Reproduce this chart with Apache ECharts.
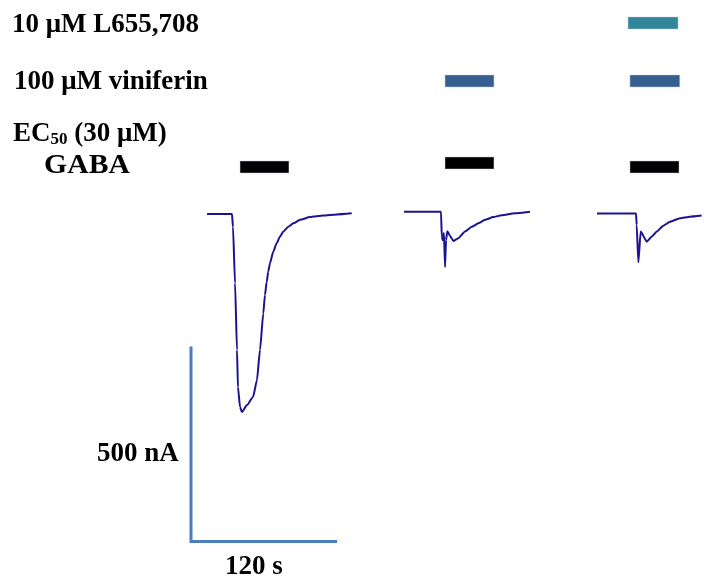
<!DOCTYPE html>
<html>
<head>
<meta charset="utf-8">
<script src="https://cdn.jsdelivr.net/npm/echarts@6/dist/echarts.min.js"></script>
<style>
html,body{margin:0;padding:0;background:#fff;}
#chart{width:704px;height:577px;}
</style>
</head>
<body>
<div id="chart"></div>
<script>
// ---- Data (time in s, current in nA) ----
const trace1Time = [13.2, 33.7, 34.5, 36.2, 37.8, 38.6, 40.3, 41.9, 46.0, 51.0, 54.2, 56.7, 59.4, 60.8, 62.2, 63.5, 64.9, 67.6, 70.4, 73.2, 75.9, 80.0, 84.1, 89.6, 97.8, 108.7, 119.8, 132.1];
const trace1Curr = [0, 0, -33, -177, -349, -444, -495, -508, -490, -469, -426, -349, -255, -208, -174, -148, -126, -97, -75, -58, -45, -33, -24, -15, -8, -4, -1, 2];

const trace2Time = [175.1, 205.5, 206.1, 206.9, 207.9, 208.8, 209.6, 210.7, 212.9, 215.6, 219.7, 225.2, 230.7, 236.1, 241.6, 248.5, 255.4, 266.3, 278.6];
const trace2Curr = [6, 6, -58, -67, -49, -136, -67, -44, -56, -69, -62, -45, -33, -24, -15, -8, -3, 2, 6];

const trace3Time = [333.7, 365.8, 366.3, 367.7, 369.6, 374.6, 378.7, 382.8, 388.2, 393.7, 401.9, 410.1, 419.7];
const trace3Curr = [1, 1, -28, -124, -45, -71, -58, -45, -30, -20, -11, -7, -4];

// drug application periods [start, end] in s
const gabaApps = [[40.3, 80.5], [208.8, 249.0], [360.8, 401.1]];
const viniferinApps = [[208.8, 249.0], [360.8, 401.7]];
const l655Apps = [[359.2, 400.3]];

// scale bar: 500 nA, 120 s
const scaleCurrent = 500;
const scaleTime = 120;

const labels = ['10 μM L655,708', '100 μM viniferin', 'GABA', '500 nA', '120 s'];

// ---- layout / style ----
const TRACE_COLOR = '#1a1490';
const FONT = 'bold 27px "Liberation Serif", "Times New Roman", serif';
const BAR_H = 12;
const PX_PER_S = 146 / 120;
const PX_PER_NA = 0.39;

function pairs(t, c) { return t.map((v, i) => [v, c[i]]); }

function barSeries(name, apps, color, tops) {
  return {
    name: name,
    type: 'custom',
    data: apps,
    silent: true,
    clip: false,
    renderItem: function (params, api) {
      const x0 = api.coord([api.value(0), 0])[0];
      const x1 = api.coord([api.value(1), 0])[0];
      const top = tops[params.dataIndex];
      return {
        type: 'rect',
        shape: { x: x0, y: top, width: x1 - x0, height: BAR_H },
        style: { fill: color, stroke: 'rgba(190,200,215,0.8)', lineWidth: 0.6 }
      };
    }
  };
}

const scaleBarBase = -340;
const Y_MIN = -920, Y_MAX = 550;
const chart = echarts.init(document.getElementById('chart'), null, { renderer: 'canvas' });
chart.setOption({
  animation: false,
  backgroundColor: '#fff',
  grid: { left: 191, top: 214 - Y_MAX * PX_PER_NA, width: 420 * PX_PER_S,
          height: (Y_MAX - Y_MIN) * PX_PER_NA, outerBoundsMode: 'none', containLabel: false },
  xAxis: { type: 'value', min: 0, max: 420, show: false },
  yAxis: { type: 'value', min: Y_MIN, max: Y_MAX, show: false },
  series: [
    { type: 'line', data: pairs(trace1Time, trace1Curr), showSymbol: false, clip: false,
      lineStyle: { color: TRACE_COLOR, width: 2 }, smooth: 0.2, smoothMonotone: 'x' },
    { type: 'line', data: pairs(trace2Time, trace2Curr), showSymbol: false, clip: false,
      lineStyle: { color: TRACE_COLOR, width: 2 }, smooth: 0.15, smoothMonotone: 'x' },
    { type: 'line', data: pairs(trace3Time, trace3Curr), showSymbol: false, clip: false,
      lineStyle: { color: TRACE_COLOR, width: 2 }, smooth: 0.15, smoothMonotone: 'x' },
    { type: 'line', showSymbol: false, clip: false,
      data: [[0, scaleBarBase], [0, scaleBarBase - scaleCurrent], [scaleTime, scaleBarBase - scaleCurrent]],
      lineStyle: { color: '#4a7ebb', width: 3, join: 'miter', cap: 'butt' } },
    barSeries('GABA', gabaApps, '#000000', [161, 157, 161]),
    barSeries('viniferin', viniferinApps, '#365f91', [75, 75]),
    barSeries('L655,708', l655Apps, '#31869b', [17])
  ],
  graphic: [
    { type: 'text', left: 12, top: 12, style: { text: labels[0], font: FONT, fill: '#000' } },
    { type: 'text', left: 14, top: 69, style: { text: labels[1], font: FONT, fill: '#000' } },
    { type: 'text', left: 13, top: 121, style: {
        text: '{m|EC}{s|50}{m| (30 μM)}', fill: '#000',
        rich: {
          m: { font: FONT, lineHeight: 30, verticalAlign: 'bottom' },
          s: { font: 'bold 17px "Liberation Serif", serif', lineHeight: 24, verticalAlign: 'bottom' }
        } } },
    { type: 'text', x: 87, y: 166, style: { text: labels[2], font: FONT, fill: '#000', textAlign: 'center', textVerticalAlign: 'middle' }, scaleX: 1.1, originX: 0 },
    { type: 'text', left: 97, top: 441, style: { text: labels[3], font: FONT, fill: '#000' } },
    { type: 'text', left: 225, top: 554, style: { text: labels[4], font: FONT, fill: '#000' } }
  ]
});
</script>
</body>
</html>
